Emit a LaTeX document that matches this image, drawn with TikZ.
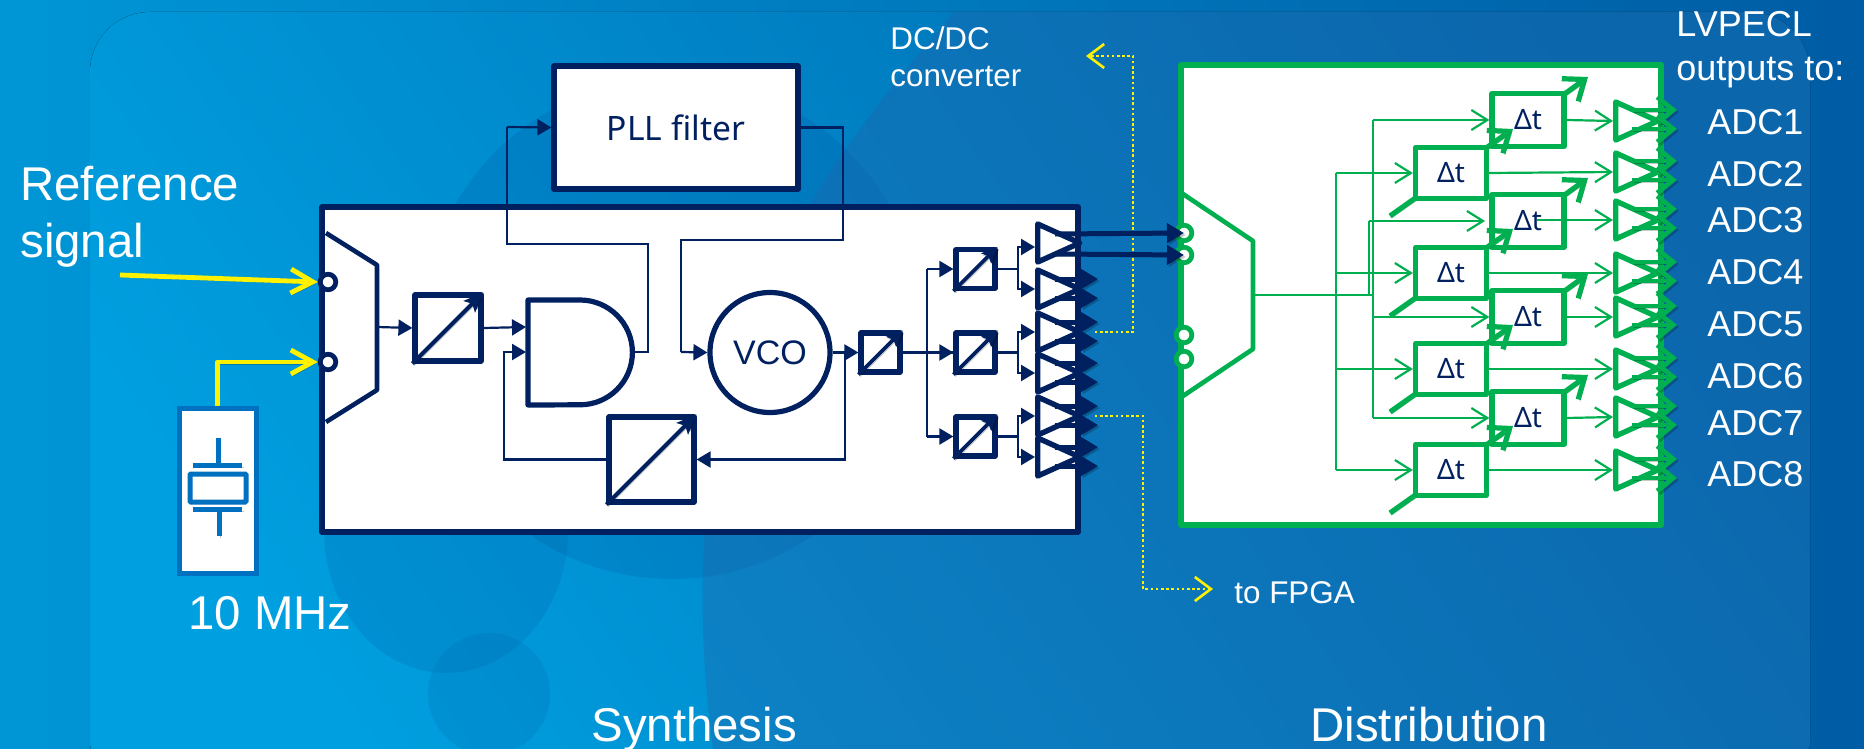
\documentclass[tikz,border=0pt]{standalone}
\usepackage{fontspec}
\setmainfont{Liberation Sans}
\newfontfamily\dtfont{Noto Sans}
\usepackage{xcolor}
\definecolor{synthnavy}{RGB}{0,32,96}
\definecolor{distgreen}{RGB}{0,176,80}
\definecolor{xtalblue}{RGB}{0,112,192}
\definecolor{bgleft}{RGB}{0,150,214}
\definecolor{bgright}{RGB}{0,92,164}
\definecolor{bglight}{RGB}{0,160,224}
\definecolor{bgdeep}{RGB}{0,104,174}
\definecolor{bgblob}{RGB}{36,100,170}
\usetikzlibrary{
  arrows.meta,
  positioning,
  shapes.geometric,
  calc
}
\tikzset{
  softshadow/.style={preaction={draw=black,opacity=.22,transform canvas={shift={(.9pt,-1pt)}}}},
  navybox/.style={draw=synthnavy, fill=white, line width=2.6pt, inner sep=0pt, line join=round},
  greenbox/.style={draw=distgreen, fill=white, line width=2.6pt, inner sep=0pt, line join=round},
  pinmark/.style={circle, fill=white, line width=2.4pt, inner sep=0pt, minimum size=7.8pt},
  navylink/.style={draw=synthnavy, line width=1.1pt, -{Triangle[length=7pt,width=8pt]}},
  navywire/.style={draw=synthnavy, line width=1.1pt},
  navyout/.style={draw=synthnavy, line width=2.5pt, softshadow, -{Triangle[length=8.5pt,width=9.5pt]}},
  diagarrow/.style={draw=synthnavy, line width=2pt, softshadow, -{Stealth[length=10pt,width=8pt,inset=2pt]}},
  smalldiag/.style={draw=synthnavy, line width=1.8pt, softshadow, -{Stealth[length=8pt,width=7pt,inset=1.5pt]}},
  greenlink/.style={draw=distgreen, line width=1.1pt, -{Straight Barb[length=8pt,width=10pt,line width=1.1pt]}},
  greenwire/.style={draw=distgreen, line width=1.1pt},
  greenout/.style={draw=distgreen, line width=2.2pt, softshadow, -{Straight Barb[length=8pt,width=13pt,line width=2.4pt]}},
  greendiag/.style={draw=distgreen, line width=2.6pt, softshadow, -{Straight Barb[length=9pt,width=14pt,line width=2.6pt]}},
  refarrow/.style={draw=yellow, line width=2.4pt, softshadow, line join=round, -{Straight Barb[length=11pt,width=12pt,line width=2.4pt]}},
  tapline/.style={draw=yellow, line width=1.3pt, dash pattern=on 1.3pt off 1.3pt, -{Straight Barb[length=8pt,width=12pt,line width=1.3pt]}},
  buffer/.style={isosceles triangle, isosceles triangle stretches, draw=#1, fill=white, line width=2.7pt,
    inner sep=0pt, minimum width=19pt, minimum height=21pt, anchor=west, line join=round},
  txtlabel/.style={text=white, anchor=base west, inner sep=0pt},
  bigfont/.style={font=\fontsize{23.7pt}{28pt}\selectfont},
  adcfont/.style={font=\fontsize{18pt}{22pt}\selectfont},
  tapfont/.style={font=\fontsize{15.7pt}{19pt}\selectfont},
  dtbox/.style={greenbox, text=synthnavy, font=\dtfont\fontsize{14pt}{16pt}\selectfont}
}

\begin{document}
\begin{tikzpicture}[x=.5pt,y=-.5pt]
  \useasboundingbox (0,0) rectangle (1864,749);

  % Backdrop
  \fill[left color=bgleft, right color=bgright] (0,0) rectangle (1864,749);
  \begin{scope}
    \clip[rounded corners=30pt] (90,12) rectangle (1810,800);
    \fill[top color=bglight, bottom color=bgdeep, shading angle=125] (0,0) rectangle (1864,749);
    \fill[synthnavy!30!xtalblue, opacity=.18] (446,530) ellipse [x radius=122, y radius=143];
    \fill[synthnavy!30!xtalblue, opacity=.16] (489,694) circle [radius=61];
    \fill[synthnavy!30!xtalblue, opacity=.22] (672,329) circle [radius=250];
    \fill[bgblob, opacity=.36] (965,0) .. controls (760,230) and (670,420) .. (713,749) -- (1864,749) -- (1864,0) -- cycle;
  \end{scope}

  % Texts
  \node[txtlabel, bigfont] (reftop) at (20,200) {Reference};
  \node[txtlabel, bigfont] (refbot) at (20,257) {signal};
  \node[txtlabel, bigfont] (tenmhz) at (188,629) {10 MHz};
  \node[txtlabel, bigfont] (synth) at (591,741) {Synthesis};
  \node[txtlabel, bigfont] (distr) at (1310,741) {Distribution};
  \node[txtlabel, tapfont] (dctop) at (890,50) {DC/DC};
  \node[txtlabel, tapfont] (dcbot) at (890,87) {converter};
  \node[txtlabel, tapfont] (fpga) at (1234,603) {to FPGA};
  \node[txtlabel, adcfont] (lvtop) at (1676,37) {LVPECL};
  \node[txtlabel, adcfont] (lvbot) at (1676,81) {outputs to:};
  \foreach \i/\yy in {1/134,2/186,3/232,4/284,5/336,6/388,7/435,8/486}
    \node[txtlabel, adcfont] (adc\i) at (1707,\yy) {ADC\i};

  % Crystal
  \node[draw=xtalblue, fill=white, line width=2.5pt, inner sep=0pt, minimum width=38.5pt, minimum height=82.5pt] (xtal) at (217.5,490.5) {};
  \node[draw=xtalblue, fill=white, line width=2.5pt, inner sep=0pt, minimum width=28pt, minimum height=14pt, rounded corners=.5pt] (xtalbody) at (218,488) {};
  \draw[xtalblue, line width=2.5pt, softshadow] (193,465) -- (242,465);
  \draw[xtalblue, line width=2.5pt, softshadow] (193,509) -- (242,509);
  \draw[xtalblue, line width=2.5pt] (218.5,438) -- (218.5,464);
  \draw[xtalblue, line width=2.5pt, softshadow] (219,510) -- (219,536);

  % Synthesis block
  \node[navybox, minimum width=378pt, minimum height=162.5pt] (synthbox) at (700,369.5) {};
  \node[navybox, minimum width=122pt, minimum height=61.5pt, text=synthnavy, font=\dtfont\fontsize{16.8pt}{20pt}\selectfont] (pll) at (676,127.5) {\raisebox{-1pt}{PLL filter}};
  \draw[navywire, line width=2.3pt, line join=round] (326,233) -- (377,265) -- (377,390) -- (326,422);
  \coordinate (muxout) at (377,327);
  \node[pinmark, draw=synthnavy] (refpin) at (328,282) {};
  \node[pinmark, draw=synthnavy] (xtalpin) at (328,362) {};

  \node[navybox, minimum size=33pt] (refdiv) at (448,328) {};
  \draw[diagarrow] (refdiv.south west) -- (refdiv.north east);
  \node[navybox, minimum size=42.5pt] (fbdiv) at (651.5,459.5) {};
  \draw[diagarrow] (fbdiv.south west) -- (fbdiv.north east);

  \draw[navybox] (528,300) -- (580,300) arc[start angle=90, end angle=-90, radius=26.2pt] -- (528,405) -- cycle;
  \coordinate (pfdup) at (526,327);
  \coordinate (pfdlow) at (526,352);
  \coordinate (pfdout) at (632,352);
  \node[circle, navybox, minimum size=60pt, text=synthnavy, font=\fontsize{17pt}{20pt}\selectfont] (vco) at (770,352.5) {VCO};
  \node[navybox, minimum size=19.5pt] (vcodiv) at (880.5,352.5) {};
  \draw[smalldiag] (vcodiv.south west) -- (vcodiv.north east);

  \draw[navylink] (muxout) -- (refdiv.west);
  \draw[navylink] (refdiv.east) -- (pfdup);
  \draw[navylink] (fbdiv.west) -| (504,352) -- (pfdlow);
  \draw[navywire] (pfdout) -| (648,244) -| (507,127);
  \draw[navylink] (507,127) -- (pll.west);
  \draw[navywire] (pll.east) -| (843,240) -| (681,352);
  \draw[navylink] (681,352) -- (vco.west);
  \draw[navylink] (vco.east) -- (vcodiv.west);
  \draw[navylink] (845,352) |- (fbdiv.east);
  \draw[navywire] (927,269) -- (927,437);

  % Fan-out dividers and buffers
  \foreach \i/\yy in {1/269,2/352.5,3/436.5} {
    \node[navybox, minimum size=19.5pt] (fan\i) at (975.5,\yy) {};
    \draw[smalldiag] (fan\i.south west) -- (fan\i.north east);
    \draw[navylink] (927,\yy) -- (fan\i.west);
  }
  \draw[navywire] (vcodiv.east) -- (fan2.west);
  \foreach \i/\yy/\yi in {1/243/247,2/289/289,3/332/332,4/373/373,5/416/416,6/457/457} {
    \node[buffer=synthnavy] (buf\i) at (1035,\yy) {};
    \coordinate (bufin\i) at (1035,\yi);
  }
  \foreach \i/\a/\b in {1/1/2,2/3/4,3/5/6} {
    \draw[navywire] (fan\i.east) -- ++(20,0) coordinate (jog\i);
    \draw[navylink] (jog\i) |- (bufin\a);
    \draw[navylink] (jog\i) |- (bufin\b);
  }

  % Distribution block
  \node[greenbox, minimum width=240pt, minimum height=230pt] (distbox) at (1421,295) {};
  \draw[greenwire, line width=2.3pt, line join=round] (1183,194) -- (1253,241) -- (1253,349) -- (1183,396);
  \foreach \nm/\yy in {dpa/233,dpb/255,dpc/335,dpd/359}
    \node[pinmark, draw=distgreen] (\nm) at (1184,\yy) {};

  \coordinate (trunkA) at (1336,295);
  \coordinate (trunkB) at (1373,295);
  \coordinate (trunkC) at (1369,295);
  \draw[greenwire] (1253,295) -- (trunkB);

  % Delay cells
  \foreach \i/\yy in {1/120,2/221,3/317,4/418} {
    \draw[greendiag] (1494,\yy+25) -- (1588,\yy-43);
    \node[dtbox, minimum width=36pt, minimum height=26.5pt] (du\i) at (1528,\yy) {Δt};
  }
  \foreach \i/\yy in {1/173,2/273,3/369,4/470} {
    \draw[greendiag] (1390,\yy+43) -- (1513,\yy-44);
    \node[dtbox, minimum width=35.5pt, minimum height=25.5pt] (dl\i) at (1451,\yy) {Δt};
  }
  \foreach \i/\yy in {1/121,2/172,3/220,4/273,5/317,6/369,7/417,8/470}
    \node[buffer=distgreen] (sb\i) at (1613,\yy) {};

  \draw[greenwire] (trunkA |- dl1.west) -- (trunkA |- dl4.west);
  \draw[greenwire] (trunkB |- du1.west) -- (trunkB |- du4.west);
  \draw[greenwire] (trunkC |- du2.west) -- (trunkC);
  \foreach \i in {1,2,3,4}
    \draw[greenlink] (trunkA |- dl\i.west) -- (dl\i.west);
  \foreach \i in {1,3,4}
    \draw[greenlink] (trunkB |- du\i.west) -- (du\i.west);
  \coordinate (duend) at (1485,221);
  \draw[greenlink] (trunkC |- du2.west) -- (duend);
  \coordinate (duinner) at (1537,220);
  \draw[greenlink] (du1.east) -- (sb1.west);
  \draw[greenlink] (dl1.east) -- (sb2.west);
  \draw[greenlink] (duinner) -- (sb3.west);
  \draw[greenlink] (dl2.east) -- (sb4.west);
  \draw[greenlink] (du3.east) -- (sb5.west);
  \draw[greenlink] (dl3.east) -- (sb6.west);
  \draw[greenlink] (du4.east) -- (sb7.west);
  \draw[greenlink] (dl4.east) -- (sb8.west);
  \foreach \i in {1,...,8} {
    \draw[greenout] ($(sb\i.west)+(19,-11)$) -- ($(sb\i.west)+(64,-11)$);
    \draw[greenout] ($(sb\i.west)+(19,8)$) -- ($(sb\i.west)+(64,8)$);
  }

  % Reference inputs
  \coordinate (refstart) at (120,275);
  \draw[refarrow] (refstart) -- (refpin.west);
  \draw[refarrow] (xtal.north) |- (xtalpin.west);

  % Tap lines
  \coordinate (dcend) at (1086,56);
  \coordinate (dcjog) at (1133,56);
  \draw[tapline, shorten <=4pt] (buf3.east) -| (dcjog) -- (dcend);
  \coordinate (fpgaend) at (1213,589);
  \coordinate (fpgajog) at (1143,589);
  \draw[tapline, shorten <=4pt] (buf5.east) -| (fpgajog) -- (fpgaend);

  % Synthesis outputs
  \draw[navyout] ($(buf1.west)+(20,-9)$) -- (dpa.center);
  \draw[navyout] ($(buf1.west)+(20,11)$) -- (dpb.center);
  \foreach \i in {2,...,6} {
    \draw[navyout] ($(buf\i.west)+(20,-10)$) -- ($(buf\i.west)+(63,-10)$);
    \draw[navyout] ($(buf\i.west)+(20,9)$) -- ($(buf\i.west)+(63,9)$);
  }
\end{tikzpicture}
\end{document}
